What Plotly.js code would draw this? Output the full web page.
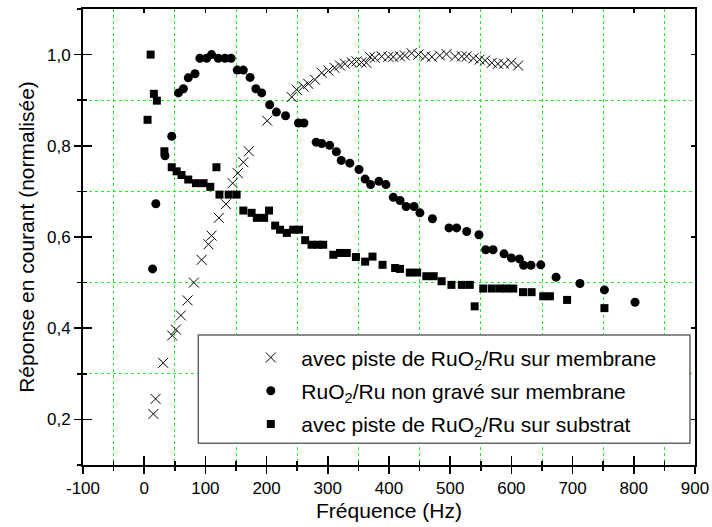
<!DOCTYPE html>
<html>
<head>
<meta charset="utf-8">
<script src="https://cdn.plot.ly/plotly-3.0.1.min.js"></script>
<style>html,body{margin:0;padding:0;background:#fff;}#chart{width:712px;height:527px;}</style>
</head>
<body>
<div id="chart"></div>
<script>
// Series 1: avec piste de RuO2/Ru sur membrane (crosses)
const freqPisteMembrane = [15, 18.6, 31, 45.8, 51.8, 60, 70.9, 81.2, 93.8, 105, 110, 122, 133.5, 144.5, 153, 162, 171, 201, 241, 249, 260, 268, 279, 290, 301, 311, 320, 328, 339, 347, 355, 363, 369, 377, 388, 399, 407, 418, 426, 437, 448, 459, 470, 483, 494, 508, 519, 527, 538, 548, 557, 568, 578, 588, 600, 611];
const respPisteMembrane = [0.212, 0.245, 0.324, 0.384, 0.397, 0.428, 0.461, 0.500, 0.550, 0.584, 0.603, 0.642, 0.672, 0.718, 0.740, 0.764, 0.788, 0.855, 0.907, 0.923, 0.930, 0.936, 0.945, 0.960, 0.965, 0.971, 0.976, 0.980, 0.983, 0.985, 0.983, 0.982, 0.995, 0.993, 0.996, 0.995, 0.995, 0.996, 0.998, 1.003, 1.000, 0.996, 0.995, 0.998, 1.001, 0.996, 0.996, 0.996, 0.992, 0.989, 0.987, 0.982, 0.980, 0.980, 0.982, 0.976];

// Series 2: RuO2/Ru non gravé sur membrane (circles)
const freqNonGrave = [13.7, 19, 34, 45, 56, 64, 72, 83, 91, 102, 110, 121, 132, 142, 152, 162, 173, 182.5, 192, 205, 216, 231, 252, 261, 281, 290, 303, 314, 322, 336, 351, 361, 370, 383.5, 395, 407, 418, 428, 441, 450.5, 471, 498, 510.5, 527, 547, 558, 570, 588, 600, 613, 620, 632, 648, 673, 712, 752, 802];
const respNonGrave = [0.530, 0.673, 0.778, 0.821, 0.916, 0.925, 0.949, 0.958, 0.992, 0.992, 1.000, 0.992, 0.992, 0.992, 0.966, 0.966, 0.950, 0.925, 0.916, 0.890, 0.874, 0.866, 0.850, 0.850, 0.808, 0.805, 0.801, 0.787, 0.768, 0.762, 0.748, 0.727, 0.715, 0.722, 0.715, 0.687, 0.680, 0.667, 0.667, 0.653, 0.640, 0.620, 0.620, 0.612, 0.605, 0.572, 0.572, 0.563, 0.554, 0.552, 0.538, 0.538, 0.539, 0.512, 0.498, 0.484, 0.457];

// Series 3: avec piste de RuO2/Ru sur substrat (squares)
const freqSubstrat = [5.5, 10.5, 15.8, 20.7, 33, 45, 53, 61, 72, 84.5, 97, 108, 118, 123, 138, 151, 162, 175.5, 184, 196, 204, 214, 222, 233, 243.5, 253, 263, 273.5, 284, 292.5, 309, 320, 331, 346, 361, 373, 389.5, 410, 418, 434, 446, 461, 473, 486, 502, 519, 532, 540, 554, 568, 581, 592, 603, 619, 633, 652, 663, 691, 752];
const respSubstrat = [0.857, 1.000, 0.914, 0.899, 0.788, 0.753, 0.744, 0.736, 0.726, 0.718, 0.718, 0.710, 0.753, 0.693, 0.693, 0.693, 0.658, 0.653, 0.642, 0.642, 0.658, 0.625, 0.616, 0.609, 0.616, 0.616, 0.593, 0.583, 0.583, 0.583, 0.561, 0.565, 0.565, 0.556, 0.546, 0.557, 0.539, 0.532, 0.530, 0.522, 0.522, 0.514, 0.514, 0.503, 0.495, 0.495, 0.495, 0.448, 0.487, 0.487, 0.487, 0.487, 0.487, 0.479, 0.479, 0.470, 0.470, 0.462, 0.444];

const seriesNames = [
  'avec piste de RuO<sub>2</sub>/Ru sur membrane',
  'RuO<sub>2</sub>/Ru non gravé sur membrane',
  'avec piste de RuO<sub>2</sub>/Ru sur substrat'
];

const xTickVals = [-100, 0, 100, 200, 300, 400, 500, 600, 700, 800, 900];
const xTickText = ['-100', '0', '100', '200', '300', '400', '500', '600', '700', '800', '900'];
const yTickVals = [0.2, 0.4, 0.6, 0.8, 1.0];
const yTickText = ['0,2', '0,4', '0,6', '0,8', '1,0'];

const xRange = [-100, 900];
const yRange = [0.1, 1.1];

const traces = [
  {x: freqPisteMembrane, y: respPisteMembrane, name: seriesNames[0], type: 'scatter', mode: 'markers',
   legendgroup: 'a', marker: {symbol: 'x-thin-open', size: 10, color: '#000', line: {color: '#000', width: 1}}},
  {x: freqNonGrave, y: respNonGrave, name: seriesNames[1], type: 'scatter', mode: 'markers',
   legendgroup: 'b', marker: {symbol: 'circle', size: 9, color: '#000'}},
  {x: freqSubstrat, y: respSubstrat, name: seriesNames[2], type: 'scatter', mode: 'markers',
   legendgroup: 'c', marker: {symbol: 'square', size: 8, color: '#000'}},
  {x: [], y: [], xaxis: 'x2', yaxis: 'y2', showlegend: false, type: 'scatter', mode: 'markers', hoverinfo: 'skip'},
  {x: [], y: [], xaxis: 'x3', yaxis: 'y3', showlegend: false, type: 'scatter', mode: 'markers', hoverinfo: 'skip'}
];

const gridStyle = {showgrid: true, gridcolor: '#22ee22', griddash: 'dot', gridwidth: 1};
const fontFamily = '"Liberation Sans", Arial, Helvetica, sans-serif';

const layout = {
  width: 712, height: 527,
  margin: {l: 83, r: 17, t: 9, b: 62},
  paper_bgcolor: '#fff', plot_bgcolor: '#fff',
  font: {family: fontFamily, color: '#000', size: 17},
  showlegend: true,
  xaxis: {
    range: xRange, autorange: false, tickmode: 'array', tickvals: xTickVals, ticktext: xTickText,
    ticks: 'outside', ticklen: 7, tickwidth: 1.5, tickcolor: '#000',
    showline: true, linewidth: 2, linecolor: '#000', mirror: true,
    showgrid: false, zeroline: false, tickfont: {family: fontFamily, size: 17},
    title: {text: 'Fréquence (Hz)', font: {family: fontFamily, size: 21}, standoff: 6},
    minor: Object.assign({tickmode: 'linear', tick0: -50, dtick: 100, ticks: 'outside', ticklen: 4, tickwidth: 1.5, tickcolor: '#000'}, gridStyle)
  },
  yaxis: {
    range: yRange, autorange: false, tickmode: 'array', tickvals: yTickVals, ticktext: yTickText,
    ticks: 'outside', ticklen: 7, tickwidth: 1.5, tickcolor: '#000',
    showline: true, linewidth: 2, linecolor: '#000', mirror: true,
    showgrid: false, zeroline: false, tickfont: {family: fontFamily, size: 17},
    title: {text: 'Réponse en courant (normalisée)', font: {family: fontFamily, size: 21}, standoff: 7},
    minor: Object.assign({tickmode: 'linear', tick0: 0.3, dtick: 0.2, ticks: 'outside', ticklen: 4, tickwidth: 1.5, tickcolor: '#000'}, gridStyle)
  },
  xaxis2: {
    overlaying: 'x', anchor: 'y2', side: 'bottom', range: xRange, autorange: false,
    tickmode: 'array', tickvals: xTickVals, showticklabels: false,
    ticks: 'inside', ticklen: 9, tickwidth: 1.5, tickcolor: '#000',
    showline: false, showgrid: false, zeroline: false,
    minor: {tickmode: 'linear', tick0: -50, dtick: 100, ticks: 'inside', ticklen: 4, tickwidth: 1.5, tickcolor: '#000', showgrid: false}
  },
  yaxis2: {
    overlaying: 'y', anchor: 'x2', side: 'left', range: yRange, autorange: false,
    tickmode: 'array', tickvals: yTickVals, showticklabels: false,
    ticks: 'inside', ticklen: 9, tickwidth: 1.5, tickcolor: '#000',
    showline: false, showgrid: false, zeroline: false,
    minor: {tickmode: 'linear', tick0: 0.3, dtick: 0.2, ticks: 'inside', ticklen: 4, tickwidth: 1.5, tickcolor: '#000', showgrid: false}
  },
  xaxis3: {
    overlaying: 'x', anchor: 'y3', side: 'top', range: xRange, autorange: false,
    tickmode: 'array', tickvals: xTickVals, showticklabels: false,
    ticks: 'inside', ticklen: 4, tickwidth: 1.5, tickcolor: '#000',
    showline: false, showgrid: false, zeroline: false
  },
  yaxis3: {
    overlaying: 'y', anchor: 'x3', side: 'right', range: yRange, autorange: false,
    tickmode: 'array', tickvals: yTickVals, showticklabels: false,
    ticks: 'inside', ticklen: 4, tickwidth: 1.5, tickcolor: '#000',
    showline: false, showgrid: false, zeroline: false
  },
  shapes: [{
    type: 'rect', xref: 'paper', yref: 'paper', x0: 0.1884, x1: 0.9918, y0: 0.0476, y1: 0.2851,
    fillcolor: '#fff', line: {color: '#666', width: 1.5}, layer: 'above'
  }],
  legend: {
    x: 0.257, y: 0.28, xanchor: 'left', yanchor: 'top',
    bgcolor: 'rgba(0,0,0,0)', borderwidth: 0, itemwidth: 51,
    tracegroupgap: 3, font: {family: fontFamily, size: 21}, traceorder: 'grouped'
  }
};

Plotly.newPlot('chart', traces, layout, {displayModeBar: false, staticPlot: true});
</script>
</body>
</html>
